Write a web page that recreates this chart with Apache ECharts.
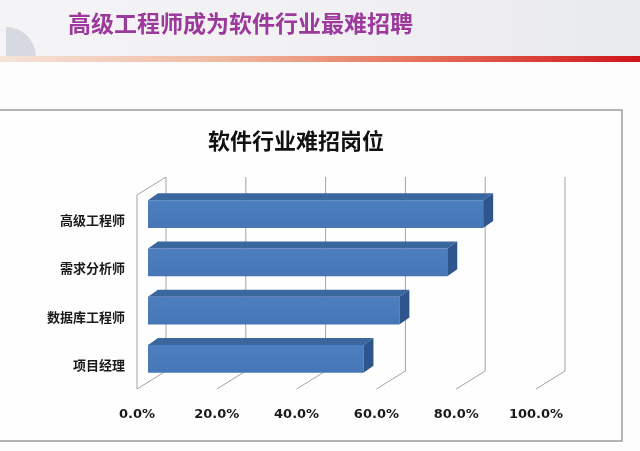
<!DOCTYPE html>
<html>
<head>
<meta charset="utf-8">
<script src="https://cdn.jsdelivr.net/npm/echarts@6/dist/echarts.min.js"></script>
<style>
html,body{margin:0;padding:0;background:#fdfdfd;}
#c{width:640px;height:451px;}
</style>
</head>
<body>
<div id="c"></div>
<script>
const pageTitle = '高级工程师成为软件行业最难招聘';
const chartTitle = '软件行业难招岗位';
const categories = ['高级工程师', '需求分析师', '数据库工程师', '项目经理'];
const values = [84, 75, 63, 54];
const tickValues = [0, 20, 40, 60, 80, 100];

const chart = echarts.init(document.getElementById('c'), null, {renderer: 'canvas', width: 640, height: 451});

const DX = 29, DY = 18;      // floor depth
const BDX = 10, BDY = 7;     // bar depth
const BOFF = 11;             // bar front offset into depth

const option = {
  backgroundColor: '#fdfdfd',
  animation: false,
  graphic: [
    {type: 'rect', shape: {x: 0, y: 0, width: 640, height: 58}, z: -10,
     style: {fill: new echarts.graphic.LinearGradient(0, 0, 1, 0, [
       {offset: 0, color: '#f4f4f6'}, {offset: 0.5, color: '#f1f1f4'}, {offset: 1, color: '#e9eaee'}])}},
    {type: 'sector', shape: {cx: 6, cy: 57, r0: 0, r: 30, startAngle: -Math.PI / 2, endAngle: 0}, z: -9,
     style: {fill: '#d6d9e0'}},
    {type: 'rect', shape: {x: 0, y: 56, width: 640, height: 6}, z: -9,
     style: {fill: new echarts.graphic.LinearGradient(0, 0, 1, 0, [
       {offset: 0, color: '#f6e3d8'}, {offset: 0.35, color: '#f0b9a0'},
       {offset: 0.65, color: '#e5735a'}, {offset: 1, color: '#d0141c'}])}},
    {type: 'text', x: 68, y: 23, z: 5,
     style: {text: pageTitle, font: 'bold 23px "Noto Sans CJK SC"', fill: '#9b3a9b',
             textVerticalAlign: 'middle', verticalAlign: 'middle'}},
    {type: 'rect', shape: {x: -40, y: 110, width: 662, height: 331}, z: -5,
     style: {fill: '#fefefe', stroke: '#9c9c9c', lineWidth: 1.5}},
    {type: 'text', x: 296, y: 141, z: 5,
     style: {text: chartTitle, font: 'bold 22px "Noto Sans CJK SC"', fill: '#111',
             align: 'center', textAlign: 'center', verticalAlign: 'middle', textVerticalAlign: 'middle'}}
  ],
  grid: {left: 137, top: 196, width: 399, height: 193, containLabel: false},
  xAxis: {
    type: 'value', min: 0, max: 100, interval: 20,
    axisLine: {show: false}, axisTick: {show: false}, splitLine: {show: false},
    axisLabel: {margin: 19, formatter: v => v.toFixed(1) + '%',
      fontFamily: 'DejaVu Sans', fontWeight: 'bold', fontSize: 13, color: '#1a1a1a'}
  },
  yAxis: {
    type: 'category', data: categories, inverse: true,
    axisLine: {show: false}, axisTick: {show: false}, splitLine: {show: false},
    axisLabel: {margin: 12, fontFamily: 'Noto Sans CJK SC', fontWeight: 'bold', fontSize: 13, color: '#1a1a1a'}
  },
  series: [
    {
      type: 'custom', z: 1, silent: true,
      data: tickValues.map(v => [v]),
      encode: {x: 0},
      renderItem: function (params, api) {
        const cs = params.coordSys;
        const x = api.coord([api.value(0), 0])[0];
        const bottom = cs.y + cs.height;
        const top = cs.y - 19;
        const style = {stroke: '#a3a3a3', lineWidth: 1, fill: null};
        const children = [{type: 'polyline', shape: {points: [[x + DX, top], [x + DX, bottom - DY], [x, bottom]]}, style: style}];
        if (api.value(0) === 0) {
          children.push({type: 'polyline', shape: {points: [[x, bottom], [x, top + DY], [x + DX, top]]}, style: style});
        }
        return {type: 'group', children: children};
      }
    },
    {
      type: 'custom', z: 2, silent: true,
      data: values.map((v, i) => [v, i]),
      encode: {x: 0, y: 1},
      renderItem: function (params, api) {
        const i = api.value(1);
        const s = api.coord([0, i]);
        const e = api.coord([api.value(0), i]);
        const band = api.size([0, 1])[1];
        const h = band * 0.58;
        const cy = s[1] - 6;
        const x0 = s[0] + BOFF, x1 = e[0] + BOFF;
        const yt = cy - h / 2, yb = cy + h / 2;
        return {type: 'group', children: [
          {type: 'rect', shape: {x: x0, y: yt, width: x1 - x0, height: h},
           style: {fill: new echarts.graphic.LinearGradient(0, 0, 0, 1, [
             {offset: 0, color: '#4d7fc0'}, {offset: 1, color: '#4676b5'}])}},
          {type: 'polygon', shape: {points: [[x0, yt], [x0 + BDX, yt - BDY], [x1 + BDX, yt - BDY], [x1, yt]]},
           style: {fill: '#3b679f'}},
          {type: 'polygon', shape: {points: [[x1, yt], [x1 + BDX, yt - BDY], [x1 + BDX, yb - BDY], [x1, yb]]},
           style: {fill: '#2e568c'}}
        ]};
      }
    }
  ]
};
chart.setOption(option);
</script>
</body>
</html>
